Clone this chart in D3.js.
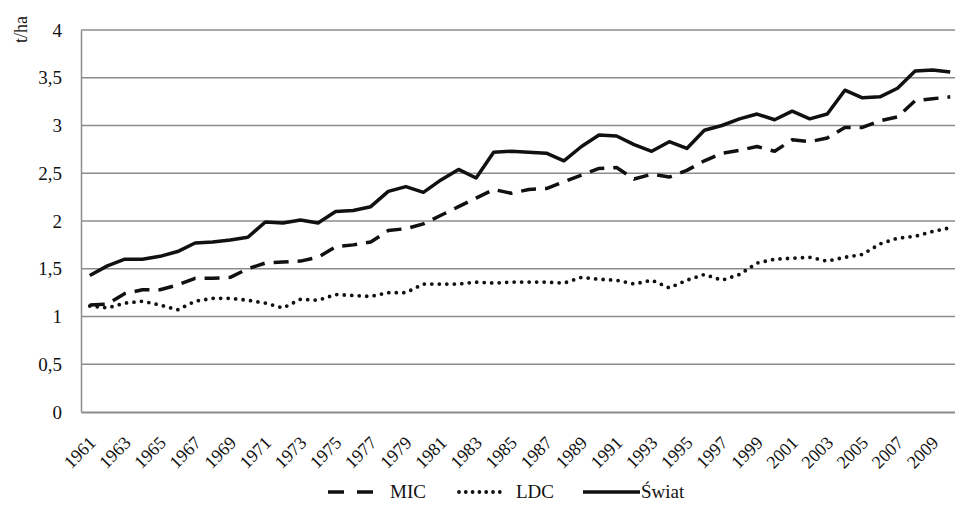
<!DOCTYPE html>
<html>
<head>
<meta charset="utf-8">
<script src="https://cdn.jsdelivr.net/npm/d3@7"></script>
<style>
  body { margin: 0; background: #fff; }
  svg { display: block; font-family: 'Liberation Serif', 'Times New Roman', serif; }
</style>
</head>
<body>
<svg id="chart" width="955" height="506"></svg>
<script>
const years = d3.range(1961, 2011);

const mic = [1.12, 1.13, 1.24, 1.28, 1.28, 1.33, 1.40, 1.40, 1.41, 1.50,
  1.56, 1.57, 1.58, 1.62, 1.73, 1.75, 1.78, 1.90, 1.92, 1.97,
  2.06, 2.15, 2.24, 2.33, 2.29, 2.33, 2.34, 2.41, 2.48, 2.55,
  2.56, 2.44, 2.49, 2.46, 2.53, 2.63, 2.71, 2.74, 2.78, 2.73,
  2.85, 2.83, 2.87, 2.98, 2.98, 3.05, 3.09, 3.26, 3.28, 3.30];

const ldc = [1.11, 1.09, 1.14, 1.16, 1.12, 1.07, 1.16, 1.19, 1.19, 1.17,
  1.14, 1.09, 1.18, 1.17, 1.23, 1.22, 1.21, 1.25, 1.25, 1.34,
  1.34, 1.34, 1.36, 1.35, 1.36, 1.36, 1.36, 1.35, 1.41, 1.39,
  1.38, 1.34, 1.38, 1.30, 1.38, 1.44, 1.38, 1.44, 1.56, 1.60,
  1.61, 1.62, 1.58, 1.62, 1.65, 1.76, 1.82, 1.84, 1.89, 1.93];

const swiat = [1.43, 1.53, 1.60, 1.60, 1.63, 1.68, 1.77, 1.78, 1.80, 1.83,
  1.99, 1.98, 2.01, 1.98, 2.10, 2.11, 2.15, 2.31, 2.36, 2.30,
  2.43, 2.54, 2.45, 2.72, 2.73, 2.72, 2.71, 2.63, 2.78, 2.90,
  2.89, 2.80, 2.73, 2.83, 2.76, 2.95, 3.00, 3.07, 3.12, 3.06,
  3.15, 3.07, 3.12, 3.37, 3.29, 3.30, 3.39, 3.57, 3.58, 3.56];

const yTicks = [0, 0.5, 1, 1.5, 2, 2.5, 3, 3.5, 4];

const series = [
  { name: 'MIC', values: mic, dash: '15,9', cap: 'butt', width: 3.5 },
  { name: 'LDC', values: ldc, dash: '0,7.5', cap: 'round', width: 3.8 },
  { name: 'Świat', values: swiat, dash: null, cap: 'butt', width: 3.5 }
];

const svg = d3.select('#chart');
const plotLeft = 81, plotRight = 959, plotTop = 30, plotBottom = 412;

const x = d3.scaleBand().domain(years).range([plotLeft, plotRight]);
const y = d3.scaleLinear().domain([0, 4]).range([plotBottom, plotTop]);
const fmt = (v) => String(v).replace('.', ',');

// gridlines
svg.append('g')
  .selectAll('line').data(yTicks.slice(1)).enter()
  .append('line')
  .attr('x1', plotLeft).attr('x2', 955)
  .attr('y1', (d) => y(d)).attr('y2', (d) => y(d))
  .attr('stroke', '#8c8c8c').attr('stroke-width', 1.5);

// axes
const yAxis = svg.append('g')
  .attr('transform', `translate(${plotLeft},0)`)
  .call(d3.axisLeft(y).tickValues(yTicks).tickSize(0).tickPadding(19).tickFormat(fmt));
yAxis.select('.domain').attr('stroke', '#8c8c8c').attr('stroke-width', 1.5);
yAxis.selectAll('text').attr('font-size', '19px').attr('fill', '#111')
  .attr('font-family', "'Liberation Serif', serif");

const xAxis = svg.append('g')
  .attr('transform', `translate(0,${plotBottom})`)
  .call(d3.axisBottom(x).tickValues(years.filter((d) => (d - 1961) % 2 === 0)).tickSize(0).tickFormat(d3.format('d')));
xAxis.select('.domain').attr('stroke', '#8c8c8c').attr('stroke-width', 2);
xAxis.selectAll('text')
  .attr('font-size', '18px').attr('fill', '#111')
  .attr('font-family', "'Liberation Serif', serif")
  .attr('text-anchor', 'end')
  .attr('dy', null).attr('y', 0)
  .attr('transform', 'translate(7,32) rotate(-45)');

// y axis title
svg.append('text')
  .attr('transform', 'translate(27,43) rotate(-90)')
  .attr('text-anchor', 'start')
  .attr('font-size', '18px').attr('fill', '#111')
  .text('t/ha');

// lines
const line = d3.line()
  .x((d, i) => x(years[i]) + x.bandwidth() / 2)
  .y((d) => y(d));

svg.append('g').selectAll('path').data(series).enter()
  .append('path')
  .attr('d', (s) => line(s.values))
  .attr('fill', 'none')
  .attr('stroke', '#111')
  .attr('stroke-width', (s) => s.width)
  .attr('stroke-linecap', (s) => s.cap)
  .attr('stroke-linejoin', 'round')
  .attr('stroke-dasharray', (s) => s.dash);

// legend
const legendItems = [
  { s: series[0], x1: 328, x2: 373, tx: 390, dash: '16,13' },
  { s: series[1], x1: 459, x2: 500, tx: 516, dash: '0,6.8' },
  { s: series[2], x1: 583, x2: 640, tx: 641, dash: null }
];
const lg = svg.append('g');
lg.selectAll('line').data(legendItems).enter()
  .append('line')
  .attr('x1', (d) => d.x1).attr('x2', (d) => d.x2)
  .attr('y1', 492).attr('y2', 492)
  .attr('stroke', '#111')
  .attr('stroke-width', (d) => d.s.width)
  .attr('stroke-linecap', (d) => d.s.cap)
  .attr('stroke-dasharray', (d) => d.dash);
lg.selectAll('text').data(legendItems).enter()
  .append('text')
  .attr('x', (d) => d.tx).attr('y', 498)
  .attr('font-size', '19px').attr('fill', '#111')
  .text((d) => d.s.name);
</script>
</body>
</html>
